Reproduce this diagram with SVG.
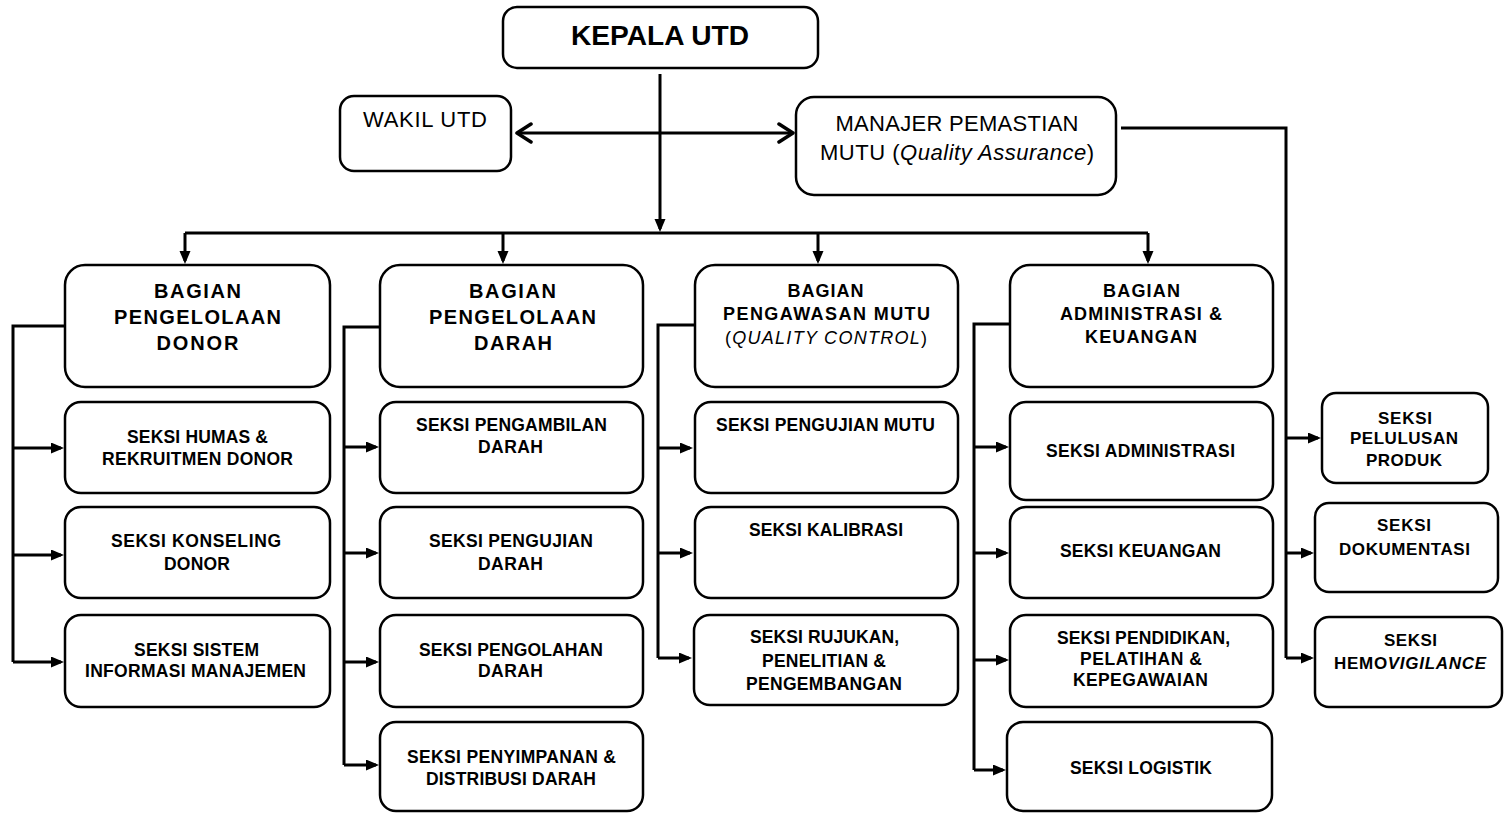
<svg xmlns="http://www.w3.org/2000/svg" width="1504" height="813" viewBox="0 0 1504 813">
  <style>
    .box { fill: #ffffff; stroke: #000000; stroke-width: 2.5; }
    .ln { fill: none; stroke: #000000; stroke-width: 3; }
    .arr { fill: none; stroke: #000000; stroke-width: 3; marker-end: url(#tri); }
    text { font-family: "Liberation Sans", Arial, sans-serif; fill: #000000; text-anchor: middle; }
    .t-head { font-size: 27px; font-weight: bold; }
    .t-reg { font-size: 22px; }
    .t-bag { font-size: 20px; font-weight: bold; }
    .t-bag2 { font-size: 18px; font-weight: bold; }
    .t-light { font-size: 18px; font-weight: normal; }
    .t-sek { font-size: 17.5px; font-weight: bold; }
    .t-sek2 { font-size: 17px; font-weight: bold; }
    .it { font-style: italic; }
  </style>
  <defs>
    <marker id="tri" markerUnits="userSpaceOnUse" markerWidth="14" markerHeight="12" refX="10" refY="5.5" orient="auto">
      <path d="M0,0 L13,5.5 L0,11 z" fill="#000000"/>
    </marker>
    <marker id="chev" markerUnits="userSpaceOnUse" markerWidth="20" markerHeight="24" refX="16" refY="11" orient="auto-start-reverse">
      <path d="M2,2 L16,11 L2,20" fill="none" stroke="#000000" stroke-width="3.5" stroke-linejoin="round" stroke-linecap="round"/>
    </marker>
  </defs>

  <!-- connectors -->
  <g id="connectors">
    <!-- head to deputy / QA manager -->
    <line class="ln" x1="660" y1="74" x2="660" y2="229" marker-end="url(#tri)"/>
    <line class="ln" x1="517" y1="133" x2="793" y2="133" marker-start="url(#chev)" marker-end="url(#chev)"/>
    <!-- distribution bar to the four departments -->
    <path class="ln" d="M185,233 H1148"/>
    <line class="arr" x1="185" y1="233" x2="185" y2="261"/>
    <line class="arr" x1="503" y1="233" x2="503" y2="261"/>
    <line class="arr" x1="818" y1="233" x2="818" y2="261"/>
    <line class="arr" x1="1148" y1="233" x2="1148" y2="261"/>

    <!-- column 1 -->
    <path class="ln" d="M66,326 H13 V662"/>
    <line class="arr" x1="13" y1="448" x2="61" y2="448"/>
    <line class="arr" x1="13" y1="555" x2="61" y2="555"/>
    <line class="arr" x1="13" y1="662" x2="61" y2="662"/>

    <!-- column 2 -->
    <path class="ln" d="M380,327 H344 V765"/>
    <line class="arr" x1="344" y1="447" x2="376" y2="447"/>
    <line class="arr" x1="344" y1="553" x2="376" y2="553"/>
    <line class="arr" x1="344" y1="662" x2="376" y2="662"/>
    <line class="arr" x1="344" y1="765" x2="376" y2="765"/>

    <!-- column 3 -->
    <path class="ln" d="M695,325 H658 V658"/>
    <line class="arr" x1="658" y1="448" x2="690" y2="448"/>
    <line class="arr" x1="658" y1="553" x2="690" y2="553"/>
    <line class="arr" x1="658" y1="658" x2="689" y2="658"/>

    <!-- column 4 -->
    <path class="ln" d="M1010,324 H974 V770"/>
    <line class="arr" x1="974" y1="447" x2="1006" y2="447"/>
    <line class="arr" x1="974" y1="553" x2="1006" y2="553"/>
    <line class="arr" x1="974" y1="660" x2="1006" y2="660"/>
    <line class="arr" x1="974" y1="770" x2="1003" y2="770"/>

    <!-- QA branch -->
    <path class="ln" d="M1121,128 H1286 V658"/>
    <line class="arr" x1="1286" y1="438" x2="1318" y2="438"/>
    <line class="arr" x1="1286" y1="553" x2="1311" y2="553"/>
    <line class="arr" x1="1286" y1="658" x2="1311" y2="658"/>
  </g>

  <!-- top level -->
  <g id="kepala">
    <rect class="box" x="503" y="7" width="315" height="61" rx="14"/>
    <text class="t-head" x="660" y="45" textLength="178" lengthAdjust="spacingAndGlyphs">KEPALA UTD</text>
  </g>
  <g id="wakil">
    <rect class="box" x="340" y="96" width="171" height="75" rx="14"/>
    <text class="t-reg" x="425" y="127" textLength="124" lengthAdjust="spacing">WAKIL UTD</text>
  </g>
  <g id="manajer">
    <rect class="box" x="796" y="97" width="320" height="98" rx="18"/>
    <text class="t-reg" x="957" y="131" textLength="243" lengthAdjust="spacing">MANAJER PEMASTIAN</text>
    <text class="t-reg" x="957" y="160" textLength="274" lengthAdjust="spacing">MUTU (<tspan class="it">Quality Assurance</tspan>)</text>
  </g>

  <!-- column 1: donor management -->
  <g id="bagian-donor">
    <rect class="box" x="65" y="265" width="265" height="122" rx="20"/>
    <text class="t-bag" x="197.5" y="298" textLength="87" lengthAdjust="spacing">BAGIAN</text>
    <text class="t-bag" x="197.5" y="324" textLength="167" lengthAdjust="spacing">PENGELOLAAN</text>
    <text class="t-bag" x="197.5" y="350" textLength="82" lengthAdjust="spacing">DONOR</text>
  </g>
  <g id="seksi-humas">
    <rect class="box" x="65" y="402" width="265" height="91" rx="16"/>
    <text class="t-sek" x="197.5" y="443" textLength="141" lengthAdjust="spacing">SEKSI HUMAS &amp;</text>
    <text class="t-sek" x="197.5" y="465" textLength="191" lengthAdjust="spacing">REKRUITMEN DONOR</text>
  </g>
  <g id="seksi-konseling">
    <rect class="box" x="65" y="507" width="265" height="91" rx="16"/>
    <text class="t-sek" x="196" y="547" textLength="170" lengthAdjust="spacing">SEKSI  KONSELING</text>
    <text class="t-sek" x="197" y="570" textLength="66" lengthAdjust="spacing">DONOR</text>
  </g>
  <g id="seksi-sim">
    <rect class="box" x="65" y="615" width="265" height="92" rx="16"/>
    <text class="t-sek" x="196.5" y="656" textLength="125" lengthAdjust="spacing">SEKSI SISTEM</text>
    <text class="t-sek" x="195.5" y="677" textLength="221" lengthAdjust="spacing">INFORMASI MANAJEMEN</text>
  </g>

  <!-- column 2: blood management -->
  <g id="bagian-darah">
    <rect class="box" x="380" y="265" width="263" height="122" rx="20"/>
    <text class="t-bag" x="512.5" y="298" textLength="87" lengthAdjust="spacing">BAGIAN</text>
    <text class="t-bag" x="512.5" y="324" textLength="167" lengthAdjust="spacing">PENGELOLAAN</text>
    <text class="t-bag" x="513" y="350" textLength="78" lengthAdjust="spacing">DARAH</text>
  </g>
  <g id="seksi-pengambilan">
    <rect class="box" x="380" y="402" width="263" height="91" rx="16"/>
    <text class="t-sek" x="511.5" y="431" textLength="191" lengthAdjust="spacing">SEKSI PENGAMBILAN</text>
    <text class="t-sek" x="510.5" y="453" textLength="65" lengthAdjust="spacing">DARAH</text>
  </g>
  <g id="seksi-pengujian-darah">
    <rect class="box" x="380" y="507" width="263" height="91" rx="16"/>
    <text class="t-sek" x="511" y="547" textLength="164" lengthAdjust="spacing">SEKSI PENGUJIAN</text>
    <text class="t-sek" x="510.5" y="570" textLength="65" lengthAdjust="spacing">DARAH</text>
  </g>
  <g id="seksi-pengolahan">
    <rect class="box" x="380" y="615" width="263" height="92" rx="16"/>
    <text class="t-sek" x="511" y="656" textLength="184" lengthAdjust="spacing">SEKSI PENGOLAHAN</text>
    <text class="t-sek" x="510.5" y="677" textLength="65" lengthAdjust="spacing">DARAH</text>
  </g>
  <g id="seksi-penyimpanan">
    <rect class="box" x="380" y="722" width="263" height="89" rx="16"/>
    <text class="t-sek" x="511.5" y="763" textLength="209" lengthAdjust="spacing">SEKSI PENYIMPANAN &amp;</text>
    <text class="t-sek" x="511" y="785" textLength="170" lengthAdjust="spacing">DISTRIBUSI DARAH</text>
  </g>

  <!-- column 3: quality control -->
  <g id="bagian-qc">
    <rect class="box" x="695" y="265" width="263" height="122" rx="20"/>
    <text class="t-bag2" x="825.5" y="297" textLength="76" lengthAdjust="spacing">BAGIAN</text>
    <text class="t-bag2" x="826.5" y="320" textLength="207" lengthAdjust="spacing">PENGAWASAN MUTU</text>
    <text class="t-light" x="826" y="344" textLength="202" lengthAdjust="spacing">(<tspan class="it">QUALITY CONTROL</tspan>)</text>
  </g>
  <g id="seksi-pengujian-mutu">
    <rect class="box" x="695" y="402" width="263" height="91" rx="16"/>
    <text class="t-sek" x="825.5" y="431" textLength="219" lengthAdjust="spacing">SEKSI PENGUJIAN MUTU</text>
  </g>
  <g id="seksi-kalibrasi">
    <rect class="box" x="695" y="507" width="263" height="91" rx="16"/>
    <text class="t-sek" x="826" y="536" textLength="154" lengthAdjust="spacing">SEKSI KALIBRASI</text>
  </g>
  <g id="seksi-rujukan">
    <rect class="box" x="694" y="615" width="264" height="90" rx="16"/>
    <text class="t-sek" x="824.5" y="643" textLength="149" lengthAdjust="spacing">SEKSI RUJUKAN,</text>
    <text class="t-sek" x="824" y="667" textLength="124" lengthAdjust="spacing">PENELITIAN &amp;</text>
    <text class="t-sek" x="824" y="690" textLength="156" lengthAdjust="spacing">PENGEMBANGAN</text>
  </g>

  <!-- column 4: administration & finance -->
  <g id="bagian-admin">
    <rect class="box" x="1010" y="265" width="263" height="122" rx="20"/>
    <text class="t-bag2" x="1141.5" y="297" textLength="77" lengthAdjust="spacing">BAGIAN</text>
    <text class="t-bag2" x="1141" y="320" textLength="162" lengthAdjust="spacing">ADMINISTRASI &amp;</text>
    <text class="t-bag2" x="1141" y="343" textLength="112" lengthAdjust="spacing">KEUANGAN</text>
  </g>
  <g id="seksi-administrasi">
    <rect class="box" x="1010" y="402" width="263" height="98" rx="16"/>
    <text class="t-sek" x="1140.5" y="457" textLength="189" lengthAdjust="spacing">SEKSI ADMINISTRASI</text>
  </g>
  <g id="seksi-keuangan">
    <rect class="box" x="1010" y="507" width="263" height="91" rx="16"/>
    <text class="t-sek" x="1140.5" y="557" textLength="161" lengthAdjust="spacing">SEKSI KEUANGAN</text>
  </g>
  <g id="seksi-pendidikan">
    <rect class="box" x="1010" y="615" width="263" height="92" rx="16"/>
    <text class="t-sek" x="1143.5" y="644" textLength="173" lengthAdjust="spacing">SEKSI PENDIDIKAN,</text>
    <text class="t-sek" x="1141" y="665" textLength="122" lengthAdjust="spacing">PELATIHAN &amp;</text>
    <text class="t-sek" x="1140.5" y="686" textLength="135" lengthAdjust="spacing">KEPEGAWAIAN</text>
  </g>
  <g id="seksi-logistik">
    <rect class="box" x="1007" y="722" width="265" height="89" rx="16"/>
    <text class="t-sek" x="1141" y="774" textLength="142" lengthAdjust="spacing">SEKSI LOGISTIK</text>
  </g>

  <!-- QA sections -->
  <g id="seksi-pelulusan">
    <rect class="box" x="1322" y="393" width="166" height="90" rx="14"/>
    <text class="t-sek2" x="1405" y="424" textLength="54" lengthAdjust="spacing">SEKSI</text>
    <text class="t-sek2" x="1404" y="444" textLength="108" lengthAdjust="spacing">PELULUSAN</text>
    <text class="t-sek2" x="1404" y="466" textLength="76" lengthAdjust="spacing">PRODUK</text>
  </g>
  <g id="seksi-dokumentasi">
    <rect class="box" x="1315" y="503" width="183" height="89" rx="14"/>
    <text class="t-sek2" x="1404" y="531" textLength="54" lengthAdjust="spacing">SEKSI</text>
    <text class="t-sek2" x="1404.5" y="555" textLength="131" lengthAdjust="spacing">DOKUMENTASI</text>
  </g>
  <g id="seksi-hemovigilance">
    <rect class="box" x="1315" y="617" width="187" height="90" rx="14"/>
    <text class="t-sek2" x="1410.5" y="646" textLength="53" lengthAdjust="spacing">SEKSI</text>
    <text class="t-sek2" x="1410" y="669" textLength="152" lengthAdjust="spacing">HEMO<tspan class="it">VIGILANCE</tspan></text>
  </g>
</svg>
